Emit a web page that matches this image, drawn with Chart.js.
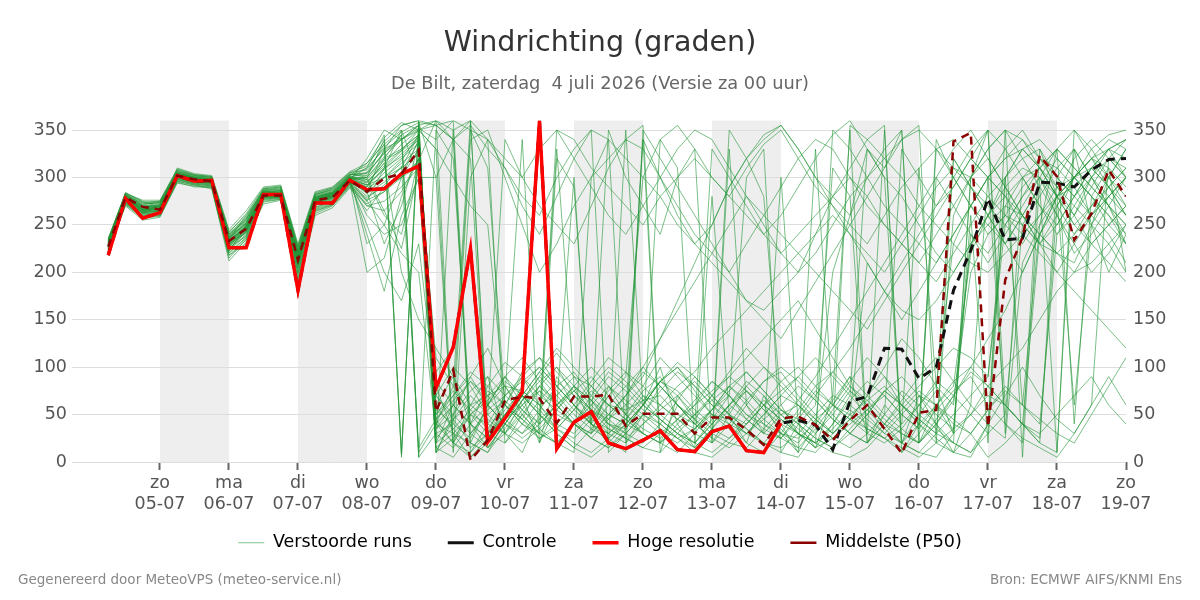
<!DOCTYPE html>
<html lang="nl">
<head>
<meta charset="UTF-8" />
<title>Windrichting (graden)</title>
<script src="https://cdn.jsdelivr.net/npm/chart.js@4"></script>
<style>
    * { padding: 0; margin: 0; box-sizing: border-box; }
    body { background: #fff; }
    .chart-container { position: relative; width: 1200px; height: 600px; }
</style>
</head>
<body>
<div class="chart-container">
    <canvas id="windChart"></canvas>
</div>
<script>
// uren t.o.v. 05-07 00:00, stappen van 6 uur vanaf 04-07 06:00
const hours = [-18, -12, -6, 0, 6, 12, 18, 24, 30, 36, 42, 48, 54, 60, 66, 72, 78, 84, 90, 96,
    102, 108, 114, 120, 126, 132, 138, 144, 150, 156, 162, 168, 174, 180, 186, 192, 198, 204, 210, 216,
    222, 228, 234, 240, 246, 252, 258, 264, 270, 276, 282, 288, 294, 300, 306, 312, 318, 324, 330, 336];

const dayTicks = [0, 24, 48, 72, 96, 120, 144, 168, 192, 216, 240, 264, 288, 312, 336];
const dayNames = ["zo", "ma", "di", "wo", "do", "vr", "za", "zo", "ma", "di", "wo", "do", "vr", "za", "zo"];
const dayDates = ["05-07", "06-07", "07-07", "08-07", "09-07", "10-07", "11-07", "12-07",
    "13-07", "14-07", "15-07", "16-07", "17-07", "18-07", "19-07"];
const shadedDays = [0, 48, 96, 144, 192, 240, 288];

const hresValues = [218, 278, 257, 263, 302, 296, 297, 226, 226, 282, 282, 181, 273, 273, 297, 287, 288, 304, 312, 78,
    121, 225, 21, 46, 74, 360, 14, 42, 53, 20, 14, 23, 33, 13, 11, 32, 38, 12, 10, 41];

const controlValues = [218, 278, 257, 263, 302, 296, 297, 226, 226, 282, 282, 181, 273, 273, 297, 287, 288, 304, 312, 78,
    121, 225, 21, 46, 74, 360, 14, 42, 53, 20, 14, 23, 33, 13, 11, 32, 38, 12, 10, 41,
    44, 39, 13, 64, 69, 120, 119, 88, 100, 181, 223, 278, 234, 236, 295, 294, 290, 308, 319, 320];

const p50Values = [227, 279, 269, 266, 302, 298, 296, 233, 246, 281, 281, 213, 276, 279, 297, 285, 299, 304, 329, 53,
    97, 2, 23, 65, 69, 67, 41, 69, 69, 71, 38, 51, 51, 51, 30, 47, 47, 34, 18, 46,
    48, 39, 23, 44, 60, 35, 9, 52, 55, 338, 347, 37, 192, 237, 323, 301, 234, 262, 308, 280];

// verstoorde runs: eerste 19 tijdstappen (tot 08-07 18 uur)
const runsEarly = [
    [232, 280, 265, 270, 305, 300, 298, 230, 242, 284, 286, 208, 278, 282, 300, 292, 310, 322, 340],
    [225, 274, 260, 262, 298, 294, 292, 222, 250, 278, 280, 200, 268, 275, 295, 280, 290, 300, 318],
    [236, 282, 272, 275, 308, 302, 300, 240, 255, 288, 290, 225, 282, 288, 304, 300, 320, 330, 345],
    [222, 270, 255, 258, 295, 290, 290, 215, 235, 272, 276, 190, 262, 270, 290, 270, 275, 290, 310],
    [228, 278, 268, 265, 303, 297, 296, 235, 260, 285, 283, 220, 280, 285, 302, 310, 330, 340, 352],
    [230, 276, 262, 272, 300, 299, 295, 226, 238, 282, 282, 210, 274, 278, 296, 260, 240, 250, 300],
    [234, 284, 275, 268, 310, 304, 302, 245, 265, 290, 292, 230, 285, 290, 306, 315, 335, 350, 300],
    [220, 272, 258, 260, 296, 292, 288, 218, 230, 276, 278, 198, 266, 272, 292, 275, 250, 220, 200],
    [226, 279, 266, 266, 302, 298, 296, 232, 248, 281, 280, 215, 276, 280, 298, 288, 300, 315, 330],
    [231, 283, 270, 272, 306, 300, 297, 236, 252, 286, 288, 222, 279, 284, 301, 295, 315, 335, 350],
    [224, 275, 262, 261, 299, 295, 293, 224, 244, 279, 279, 205, 272, 276, 294, 250, 200, 170, 230],
    [233, 281, 271, 274, 304, 301, 299, 238, 256, 283, 285, 218, 281, 286, 303, 305, 325, 345, 355],
    [227, 277, 264, 264, 301, 296, 295, 229, 243, 280, 281, 212, 273, 279, 297, 283, 295, 310, 325],
    [229, 280, 267, 269, 303, 299, 297, 234, 246, 284, 283, 216, 277, 283, 299, 298, 318, 328, 342],
    [223, 273, 259, 263, 297, 293, 291, 220, 236, 277, 279, 195, 265, 271, 293, 270, 265, 285, 320],
    [235, 283, 276, 276, 309, 303, 301, 242, 262, 289, 291, 228, 283, 289, 305, 308, 332, 348, 358],
    [226, 278, 264, 267, 300, 297, 294, 231, 247, 282, 281, 210, 275, 280, 297, 285, 230, 270, 335],
    [232, 281, 269, 270, 304, 300, 298, 237, 252, 285, 286, 220, 279, 284, 300, 300, 322, 340, 350],
    [221, 271, 257, 259, 294, 291, 289, 212, 232, 274, 277, 185, 260, 268, 289, 265, 290, 300, 312],
    [230, 279, 266, 268, 302, 298, 296, 233, 249, 282, 283, 214, 276, 281, 298, 292, 308, 325, 340],
    [228, 277, 266, 267, 301, 297, 295, 230, 245, 281, 282, 211, 275, 280, 297, 300, 340, 5, 360],
    [231, 279, 268, 270, 303, 299, 297, 234, 248, 283, 284, 216, 277, 282, 299, 310, 345, 8, 358],
    [225, 276, 263, 264, 300, 296, 294, 227, 242, 279, 280, 208, 273, 278, 296, 290, 320, 345, 10],
    [229, 281, 270, 268, 304, 299, 297, 236, 251, 284, 284, 219, 278, 283, 300, 296, 312, 330, 345],
    [224, 273, 261, 263, 298, 294, 292, 223, 239, 278, 279, 203, 269, 274, 294, 276, 285, 305, 338],
    [233, 282, 273, 273, 306, 302, 300, 241, 258, 287, 289, 226, 282, 287, 303, 302, 328, 342, 5],
    [227, 277, 265, 266, 301, 297, 295, 231, 246, 281, 281, 213, 275, 280, 297, 287, 305, 320, 336],
    [230, 279, 268, 269, 303, 299, 297, 235, 250, 283, 284, 217, 278, 282, 299, 294, 315, 200, 150],
    [222, 272, 258, 260, 296, 292, 290, 218, 234, 275, 277, 193, 264, 271, 291, 272, 285, 300, 330],
    [235, 284, 274, 275, 308, 303, 301, 243, 260, 288, 290, 227, 284, 289, 305, 312, 338, 355, 360],
    [226, 276, 263, 265, 300, 296, 294, 228, 244, 280, 280, 209, 274, 279, 296, 284, 300, 318, 345],
    [231, 280, 269, 271, 304, 300, 298, 237, 253, 285, 286, 221, 279, 284, 301, 298, 260, 240, 320],
    [228, 278, 266, 267, 302, 298, 296, 233, 248, 282, 282, 214, 276, 281, 298, 290, 310, 328, 350],
    [223, 274, 260, 262, 298, 293, 291, 221, 237, 277, 278, 200, 267, 273, 293, 278, 292, 312, 15],
    [234, 283, 274, 274, 307, 302, 300, 240, 257, 287, 288, 224, 282, 287, 303, 304, 326, 340, 355],
    [229, 278, 267, 268, 302, 298, 296, 232, 247, 282, 282, 212, 276, 281, 298, 240, 180, 260, 300],
    [226, 277, 265, 266, 301, 297, 295, 229, 245, 281, 281, 210, 274, 280, 297, 320, 350, 340, 355],
    [232, 281, 270, 271, 305, 300, 298, 238, 254, 285, 286, 220, 279, 284, 301, 230, 250, 300, 340],
    [224, 275, 262, 263, 299, 295, 293, 225, 240, 279, 280, 205, 271, 277, 295, 285, 330, 355, 360],
    [230, 279, 268, 269, 303, 299, 297, 234, 249, 283, 283, 215, 277, 282, 299, 300, 265, 225, 310],
    [227, 277, 264, 265, 301, 297, 295, 230, 245, 281, 281, 211, 275, 280, 297, 275, 310, 350, 5],
    [233, 282, 272, 273, 306, 301, 299, 239, 256, 286, 287, 222, 280, 285, 302, 315, 342, 358, 350],
    [225, 276, 263, 264, 300, 296, 294, 227, 242, 280, 280, 207, 272, 278, 296, 200, 215, 280, 320],
    [231, 280, 269, 270, 304, 300, 298, 236, 251, 284, 285, 218, 278, 283, 300, 305, 335, 10, 350],
    [228, 278, 266, 267, 302, 298, 296, 232, 248, 282, 282, 213, 276, 281, 298, 292, 300, 310, 345]
];

// verstoorde runs: vanaf 09-07 00 uur tot 19-07 00 uur
const runsLate = [
    [25, 45, 60, 70, 80, 75, 60, 70, 90, 80, 60, 55, 65, 70, 50, 40, 55, 70, 45, 30, 50, 60, 40, 25, 40, 55, 70, 50, 35, 60, 80, 220, 260, 290, 310, 300, 280, 260, 300, 320, 310],
    [360, 340, 20, 10, 45, 60, 75, 50, 40, 70, 95, 80, 60, 45, 30, 20, 40, 60, 75, 55, 35, 15, 10, 30, 50, 65, 80, 60, 40, 25, 10, 5, 40, 300, 330, 340, 320, 300, 280, 250, 230],
    [60, 90, 40, 15, 30, 65, 85, 100, 70, 55, 45, 60, 80, 110, 90, 70, 50, 35, 60, 85, 95, 70, 50, 30, 45, 70, 100, 130, 110, 80, 60, 230, 250, 270, 260, 240, 220, 210, 250, 280, 300],
    [80, 30, 5, 20, 60, 95, 110, 80, 60, 40, 30, 50, 75, 90, 60, 45, 30, 20, 15, 35, 55, 45, 30, 50, 75, 60, 40, 20, 10, 5, 30, 50, 70, 60, 40, 20, 10, 350, 330, 300, 270],
    [340, 360, 350, 310, 60, 40, 30, 55, 80, 65, 40, 35, 60, 85, 100, 75, 50, 40, 30, 45, 60, 80, 65, 45, 30, 20, 40, 60, 80, 100, 120, 110, 90, 270, 300, 320, 310, 290, 260, 240, 210],
    [45, 20, 10, 30, 70, 90, 60, 35, 25, 45, 70, 90, 300, 340, 355, 330, 300, 280, 310, 335, 350, 320, 290, 270, 250, 230, 260, 290, 310, 330, 340, 320, 300, 280, 250, 230, 260, 300, 330, 345, 350],
    [10, 50, 90, 120, 80, 50, 30, 20, 40, 65, 90, 75, 55, 40, 25, 35, 50, 45, 30, 20, 15, 30, 50, 70, 60, 45, 30, 50, 70, 60, 45, 30, 5, 20, 40, 240, 280, 300, 320, 330, 340],
    [30, 15, 40, 80, 105, 90, 70, 55, 40, 30, 50, 70, 95, 80, 60, 45, 70, 95, 120, 100, 80, 60, 45, 30, 50, 210, 180, 160, 150, 170, 200, 230, 260, 280, 300, 310, 290, 270, 250, 230, 200],
    [95, 120, 225, 60, 40, 30, 45, 60, 75, 55, 35, 25, 40, 55, 70, 85, 65, 50, 40, 60, 85, 100, 80, 60, 45, 35, 25, 40, 60, 85, 70, 50, 30, 350, 340, 320, 300, 280, 310, 290, 260],
    [360, 350, 360, 340, 310, 280, 260, 300, 330, 350, 340, 320, 300, 280, 250, 230, 210, 190, 170, 160, 180, 200, 220, 250, 280, 300, 320, 340, 350, 330, 310, 290, 270, 250, 230, 260, 290, 300, 320, 310, 290],
    [70, 100, 80, 50, 30, 20, 35, 55, 75, 90, 70, 50, 35, 25, 45, 65, 85, 70, 50, 40, 30, 20, 45, 60, 50, 35, 25, 15, 5, 20, 35, 50, 80, 100, 120, 150, 180, 200, 230, 250, 270],
    [20, 35, 55, 75, 60, 45, 80, 60, 40, 25, 15, 30, 50, 40, 25, 10, 5, 20, 40, 60, 45, 30, 20, 35, 55, 40, 25, 10, 30, 55, 75, 90, 60, 40, 25, 15, 5, 30, 60, 320, 300],
    [50, 70, 90, 60, 40, 70, 95, 75, 55, 40, 30, 45, 70, 60, 45, 35, 55, 80, 65, 45, 30, 25, 40, 65, 90, 70, 50, 35, 20, 40, 65, 200, 240, 260, 250, 230, 220, 240, 270, 290, 310],
    [40, 60, 350, 340, 320, 300, 330, 350, 340, 310, 290, 270, 250, 280, 300, 320, 300, 280, 260, 240, 220, 240, 260, 280, 300, 280, 250, 230, 210, 190, 220, 250, 280, 300, 320, 330, 300, 280, 260, 280, 300],
    [15, 5, 30, 55, 70, 85, 100, 80, 60, 45, 35, 25, 15, 30, 45, 60, 75, 90, 110, 130, 150, 170, 140, 110, 80, 60, 40, 30, 20, 45, 70, 95, 80, 60, 40, 30, 50, 70, 90, 60, 40],
    [355, 360, 30, 50, 65, 45, 25, 40, 60, 85, 110, 95, 70, 50, 35, 20, 40, 60, 45, 30, 25, 50, 75, 60, 45, 30, 20, 35, 60, 80, 230, 270, 300, 320, 330, 310, 280, 290, 310, 330, 320],
    [85, 60, 40, 25, 45, 70, 55, 35, 20, 10, 25, 45, 65, 85, 75, 55, 40, 60, 80, 100, 85, 65, 45, 30, 355, 340, 320, 300, 270, 250, 230, 210, 200, 220, 240, 260, 280, 300, 310, 290, 270],
    [35, 50, 75, 90, 70, 55, 40, 60, 80, 65, 50, 40, 30, 20, 35, 50, 65, 80, 95, 75, 55, 40, 25, 15, 30, 50, 75, 60, 45, 30, 20, 10, 30, 50, 250, 280, 310, 330, 300, 280, 260],
    [110, 80, 50, 30, 20, 40, 65, 85, 70, 50, 30, 20, 40, 60, 80, 95, 120, 140, 160, 180, 200, 220, 240, 260, 240, 220, 200, 230, 260, 290, 310, 300, 280, 260, 240, 220, 200, 180, 160, 140, 120],
    [55, 40, 25, 60, 90, 70, 50, 35, 55, 80, 100, 85, 65, 45, 30, 20, 10, 25, 45, 65, 50, 35, 20, 10, 5, 15, 35, 55, 75, 60, 40, 30, 55, 80, 60, 40, 240, 270, 300, 330, 340],
    [20, 350, 10, 40, 70, 340, 20, 60, 300, 30, 80, 50, 340, 10, 70, 45, 20, 330, 60, 30, 300, 40, 15, 70, 350, 20, 60, 40, 310, 80, 30, 260, 20, 300, 60, 250, 330, 40, 280, 310, 200],
    [300, 20, 60, 90, 30, 10, 50, 330, 80, 40, 20, 350, 60, 100, 40, 15, 280, 50, 20, 70, 40, 10, 330, 60, 90, 30, 350, 20, 70, 40, 10, 60, 300, 40, 20, 330, 280, 60, 250, 300, 330],
    [40, 80, 360, 30, 50, 70, 20, 90, 60, 40, 350, 300, 270, 240, 300, 330, 20, 50, 80, 60, 30, 10, 40, 200, 260, 330, 310, 350, 20, 60, 30, 300, 350, 60, 40, 20, 300, 330, 250, 200, 240],
    [35, 60, 85, 70, 45, 30, 55, 80, 95, 70, 50, 40, 60, 85, 70, 50, 35, 25, 40, 60, 75, 90, 70, 50, 30, 20, 40, 65, 90, 110, 85, 60, 40, 25, 210, 250, 280, 300, 280, 260, 230],
    [70, 45, 20, 10, 35, 60, 80, 65, 45, 25, 15, 35, 60, 85, 100, 80, 60, 40, 20, 10, 30, 55, 80, 95, 75, 55, 35, 20, 10, 30, 260, 300, 320, 290, 260, 230, 250, 280, 300, 270, 240],
    [30, 40, 340, 350, 300, 250, 200, 230, 270, 300, 320, 340, 330, 300, 270, 240, 220, 200, 230, 260, 290, 320, 340, 330, 300, 270, 250, 230, 210, 240, 270, 300, 330, 350, 320, 290, 260, 230, 200, 220, 250],
    [50, 75, 55, 35, 60, 90, 110, 95, 75, 55, 40, 30, 50, 75, 95, 80, 60, 45, 30, 50, 70, 60, 40, 25, 15, 30, 50, 75, 60, 40, 20, 300, 330, 350, 5, 300, 260, 220, 240, 270, 230],
    [120, 90, 60, 45, 30, 50, 75, 60, 40, 25, 45, 70, 100, 130, 160, 190, 220, 250, 280, 260, 240, 220, 200, 180, 160, 140, 170, 200, 230, 260, 290, 320, 300, 280, 260, 240, 220, 200, 210, 230, 250],
    [15, 30, 50, 65, 85, 70, 50, 30, 15, 5, 20, 40, 60, 45, 30, 15, 35, 60, 85, 70, 50, 30, 15, 25, 45, 70, 90, 60, 40, 20, 10, 30, 55, 75, 60, 45, 30, 20, 50, 80, 110],
    [355, 340, 320, 15, 40, 65, 90, 70, 50, 35, 25, 40, 60, 85, 105, 90, 70, 50, 35, 20, 10, 5, 30, 55, 80, 65, 45, 30, 20, 40, 70, 100, 130, 160, 200, 240, 270, 300, 320, 290, 260],
    [60, 35, 15, 30, 55, 75, 60, 40, 30, 50, 75, 95, 80, 60, 45, 30, 20, 40, 65, 85, 100, 85, 65, 45, 30, 50, 75, 90, 70, 50, 35, 240, 220, 250, 280, 310, 330, 310, 290, 270, 300],
    [40, 20, 5, 25, 50, 70, 95, 120, 100, 80, 60, 45, 30, 20, 10, 30, 55, 80, 60, 40, 25, 45, 70, 95, 120, 150, 180, 210, 240, 270, 300, 330, 350, 330, 300, 270, 240, 260, 290, 320, 340],
    [330, 300, 270, 250, 60, 45, 30, 20, 40, 60, 80, 65, 50, 35, 25, 15, 35, 55, 75, 60, 45, 30, 20, 350, 330, 300, 270, 250, 230, 210, 240, 270, 300, 320, 340, 310, 280, 250, 230, 210, 190],
    [45, 70, 95, 80, 60, 40, 25, 35, 55, 75, 60, 45, 30, 20, 40, 60, 85, 70, 50, 35, 25, 15, 35, 60, 85, 110, 90, 70, 50, 35, 20, 10, 40, 70, 100, 70, 45, 30, 60, 90, 60],
    [10, 25, 50, 40, 30, 55, 80, 100, 80, 60, 40, 25, 15, 10, 30, 50, 70, 90, 75, 55, 40, 30, 20, 40, 65, 85, 70, 50, 35, 330, 300, 270, 240, 260, 290, 310, 330, 350, 320, 300, 280],
    [300, 340, 355, 330, 310, 270, 240, 280, 320, 350, 10, 30, 340, 300, 260, 230, 250, 290, 320, 345, 355, 330, 300, 280, 260, 300, 330, 350, 20, 340, 300, 270, 250, 230, 260, 290, 320, 300, 280, 260, 240],
    [360, 20, 50, 70, 90, 60, 40, 350, 320, 290, 260, 240, 270, 300, 330, 350, 340, 310, 280, 250, 220, 200, 240, 280, 310, 340, 355, 10, 40, 300, 270, 240, 210, 240, 270, 300, 330, 310, 290, 270, 250],
    [10, 45, 70, 50, 340, 300, 270, 250, 230, 270, 310, 340, 355, 20, 60, 40, 330, 300, 270, 240, 260, 290, 320, 345, 360, 330, 300, 280, 250, 220, 200, 230, 260, 300, 330, 310, 280, 250, 270, 300, 330],
    [20, 60, 40, 25, 50, 80, 100, 80, 60, 40, 25, 10, 350, 320, 290, 260, 230, 200, 170, 150, 130, 160, 190, 220, 250, 280, 310, 340, 355, 20, 320, 290, 260, 230, 200, 240, 280, 320, 340, 320, 300],
    [40, 30, 20, 60, 90, 110, 85, 60, 40, 30, 50, 70, 90, 130, 170, 210, 250, 290, 320, 340, 355, 330, 300, 270, 240, 210, 180, 150, 180, 210, 240, 270, 300, 330, 350, 320, 290, 260, 230, 250, 270],
    [350, 320, 40, 60, 80, 55, 35, 20, 10, 300, 340, 20, 50, 80, 60, 40, 25, 350, 320, 280, 60, 30, 15, 40, 70, 330, 300, 20, 50, 75, 320, 290, 260, 230, 260, 290, 10, 330, 300, 270, 250],
    [330, 10, 300, 340, 20, 50, 30, 320, 290, 40, 70, 50, 30, 340, 310, 20, 45, 70, 300, 330, 10, 40, 60, 310, 280, 20, 50, 330, 300, 270, 290, 320, 350, 30, 300, 270, 250, 280, 310, 330, 300],
    [70, 50, 30, 15, 40, 65, 90, 115, 90, 65, 45, 30, 20, 40, 65, 90, 70, 50, 35, 20, 40, 65, 90, 120, 150, 180, 210, 240, 270, 300, 330, 350, 320, 290, 260, 230, 200, 230, 260, 290, 310],
    [355, 340, 360, 20, 45, 70, 50, 30, 15, 35, 60, 80, 100, 80, 60, 40, 25, 15, 30, 50, 70, 90, 110, 90, 70, 50, 30, 20, 40, 60, 85, 100, 80, 60, 40, 25, 270, 300, 320, 340, 330],
    [45, 65, 85, 60, 40, 25, 40, 60, 80, 100, 80, 60, 45, 30, 20, 35, 55, 75, 95, 75, 55, 40, 25, 15, 35, 55, 75, 60, 45, 30, 50, 70, 90, 250, 280, 300, 270, 240, 260, 280, 300]
];

const footerLeft = "Gegenereerd door MeteoVPS (meteo-service.nl)";
const footerRight = "Bron: ECMWF AIFS/KNMI Ens";

function toPoints(values) {
    return values.map((v, i) => ({ x: hours[i], y: v }));
}

const fontFamily = "'DejaVu Sans', sans-serif";

const datasets = runsEarly.map((early, i) => ({
    label: i === 0 ? "Verstoorde runs" : "",
    data: toPoints(early.concat(runsLate[i])),
    borderColor: "rgba(35, 150, 55, 0.6)",
    borderWidth: 1,
    order: 4,
}));

datasets.push({
    label: "Controle",
    data: toPoints(controlValues),
    borderColor: "#111",
    borderWidth: 3,
    borderDash: [9, 6],
    order: 3,
});
datasets.push({
    label: "Hoge resolutie",
    data: toPoints(hresValues),
    borderColor: "#ff0000",
    borderWidth: 3.5,
    order: 2,
});
datasets.push({
    label: "Middelste (P50)",
    data: toPoints(p50Values),
    borderColor: "#8b0000",
    borderWidth: 2.5,
    borderDash: [8, 6],
    order: 1,
});

const shadingPlugin = {
    id: "dayShading",
    beforeDraw(chart) {
        const { ctx, chartArea, scales } = chart;
        ctx.save();
        ctx.fillStyle = "#eeeeee";
        shadedDays.forEach((start) => {
            const x0 = scales.x.getPixelForValue(start);
            const x1 = scales.x.getPixelForValue(start + 24);
            ctx.fillRect(x0, chartArea.top, x1 - x0, chartArea.bottom - chartArea.top);
        });
        ctx.restore();
    },
};

// legenda iets omhoog schuiven, dichter bij de as-labels
const legendShiftPlugin = {
    id: "legendShift",
    afterUpdate(chart) {
        const legend = chart.legend;
        legend.top = legend.top - 16;
        legend.bottom = legend.bottom - 16;
    },
};

const footerPlugin = {
    id: "footerText",
    afterDraw(chart) {
        const ctx = chart.ctx;
        ctx.save();
        ctx.font = "13.5px " + fontFamily;
        ctx.fillStyle = "#888";
        ctx.textBaseline = "middle";
        ctx.textAlign = "left";
        ctx.fillText(footerLeft, 18, 580);
        ctx.textAlign = "right";
        ctx.fillText(footerRight, 1182, 580);
        ctx.restore();
    },
};

const tickFont = { family: fontFamily, size: 17.5 };

const ctx = document.getElementById("windChart").getContext("2d");
new Chart(ctx, {
    type: "line",
    data: { datasets: datasets },
    plugins: [shadingPlugin, legendShiftPlugin, footerPlugin],
    options: {
        responsive: true,
        maintainAspectRatio: false,
        animation: false,
        layout: { padding: { top: 0, bottom: 22.5, left: 0, right: 0 } },
        elements: {
            point: { radius: 0, hoverRadius: 0 },
            line: { tension: 0, fill: false },
        },
        plugins: {
            title: {
                display: true,
                text: "Windrichting (graden)",
                color: "#333",
                font: { family: fontFamily, size: 28.5, weight: "normal" },
                padding: { top: 26, bottom: 4 },
            },
            subtitle: {
                display: true,
                text: "De Bilt, zaterdag  4 juli 2026 (Versie za 00 uur)",
                color: "#666",
                font: { family: fontFamily, size: 17.8 },
                padding: { top: 10, bottom: 25 },
            },
            legend: {
                position: "bottom",
                labels: {
                    usePointStyle: true,
                    pointStyle: "line",
                    pointStyleWidth: 26,
                    padding: 36,
                    color: "#000",
                    font: { family: fontFamily, size: 17.5 },
                    filter: (item) => item.text !== "",
                    sort: (a, b) => a.datasetIndex - b.datasetIndex,
                },
            },
            tooltip: { enabled: false },
        },
        scales: {
            x: {
                type: "linear",
                min: -30.6,
                max: 336,
                afterBuildTicks: (scale) => {
                    scale.ticks = dayTicks.map((v) => ({ value: v }));
                },
                afterFit: (scale) => {
                    scale.height = 52;
                },
                grid: {
                    display: true,
                    drawOnChartArea: false,
                    drawTicks: true,
                    tickLength: 8,
                    tickColor: "#666",
                    tickWidth: 2,
                },
                border: { display: false },
                ticks: {
                    autoSkip: false,
                    maxRotation: 0,
                    padding: 3,
                    color: "#555",
                    font: tickFont,
                    callback: (value) => {
                        const i = dayTicks.indexOf(value);
                        return i < 0 ? "" : [dayNames[i], dayDates[i]];
                    },
                },
            },
            y: {
                position: "left",
                min: 0,
                max: 360,
                afterFit: (scale) => {
                    scale.width = 72;
                },
                grid: { color: "#dddddd", drawTicks: false },
                border: { display: false },
                ticks: {
                    stepSize: 50,
                    includeBounds: false,
                    padding: 5,
                    color: "#555",
                    font: tickFont,
                },
            },
            y2: {
                position: "right",
                min: 0,
                max: 360,
                afterFit: (scale) => {
                    scale.width = 74;
                },
                grid: { display: false, drawTicks: false },
                border: { display: false },
                ticks: {
                    stepSize: 50,
                    includeBounds: false,
                    padding: 7,
                    color: "#555",
                    font: tickFont,
                },
            },
        },
    },
});
</script>
</body>
</html>
